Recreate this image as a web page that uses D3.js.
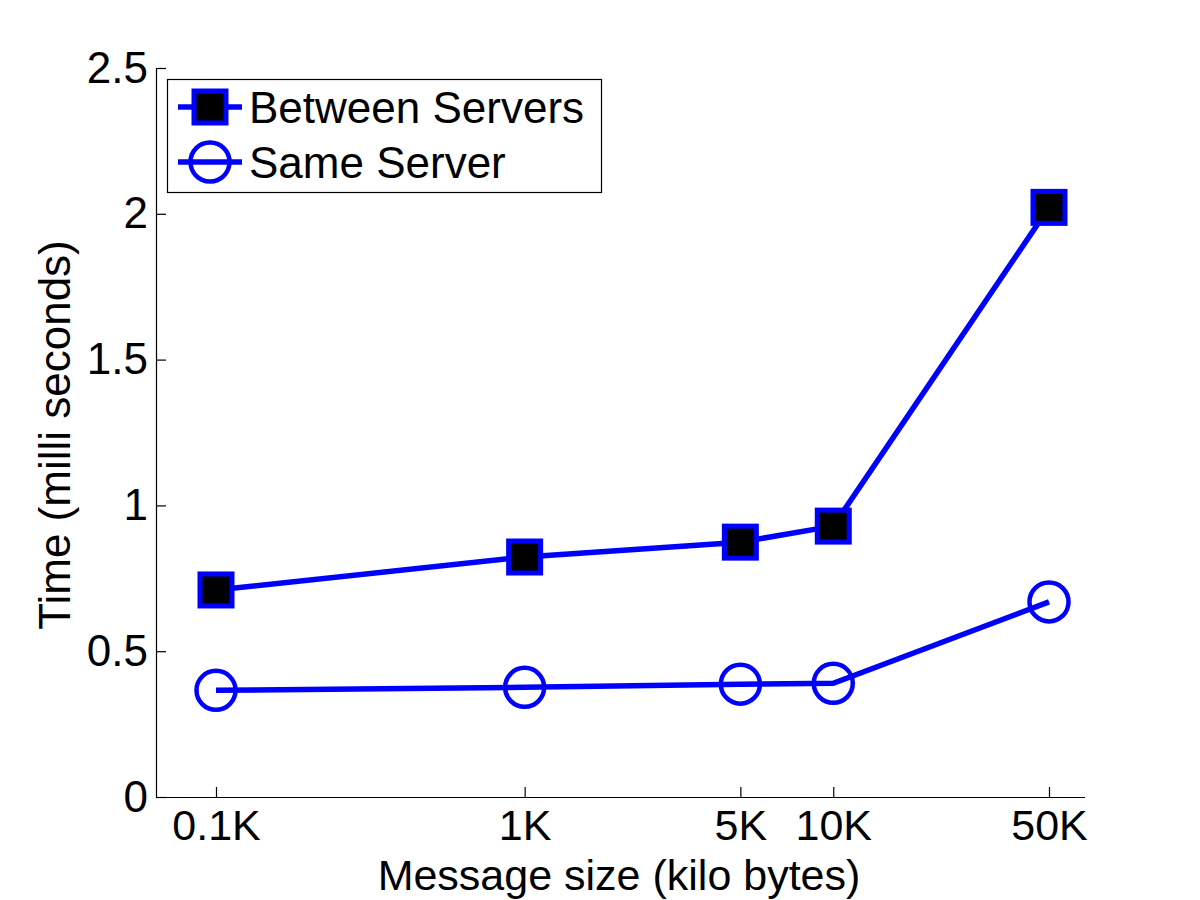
<!DOCTYPE html>
<html>
<head>
<meta charset="utf-8">
<script src="https://cdn.jsdelivr.net/npm/d3@7"></script>
<style>
html,body{margin:0;padding:0;background:#fff;}
text{font-family:"Liberation Sans",Arial,sans-serif;fill:#000;}
</style>
</head>
<body>
<script>
// message sizes in K
var sizes = [0.1, 1, 5, 10, 50];
var sizeLabels = ["0.1K", "1K", "5K", "10K", "50K"];
var betweenServers = [0.71, 0.823, 0.874, 0.929, 2.022];
var sameServer = [0.366, 0.376, 0.387, 0.39, 0.669];
var yTicks = [0, 0.5, 1, 1.5, 2, 2.5];
var seriesNames = ["Between Servers", "Same Server"];

var W = 1200, H = 900;
var blue = "#0000ff";
var axL = 156, axR = 1085, axB = 797, axT = 68;

var svg = d3.select("body").append("svg").attr("width", W).attr("height", H);

var x = d3.scaleLog().domain([0.1, 50]).range([216, 1049]);
var y = d3.scaleLinear().domain([0, 2.5]).range([axB, axT]);

// axes (box off, ticks inside)
var gx = svg.append("g").attr("transform", "translate(0," + axB + ")");
gx.call(d3.axisBottom(x).tickValues(sizes).tickSizeInner(-10).tickSizeOuter(0)
	.tickPadding(12).tickFormat(function(d, i){return sizeLabels[i];}));
gx.select(".domain").attr("d", "M" + axL + ",0.5H" + axR);
gx.selectAll("text").attr("font-size", 43).attr("font-family", "Liberation Sans, Arial, sans-serif");

var gy = svg.append("g").attr("transform", "translate(" + axL + ",0)");
gy.call(d3.axisLeft(y).tickValues(yTicks).tickSizeInner(-10).tickSizeOuter(0)
	.tickPadding(8).tickFormat(d3.format("")));
gy.selectAll("text").attr("font-size", 44).attr("font-family", "Liberation Sans, Arial, sans-serif");
svg.selectAll(".domain, .tick line").attr("stroke", "#000").attr("stroke-width", 1.2);

// axis titles
svg.append("text").attr("x", 619).attr("y", 890).attr("text-anchor", "middle")
	.attr("font-size", 43).text("Message size (kilo bytes)");
svg.append("text").attr("transform", "translate(70,435) rotate(-90)").attr("text-anchor", "middle")
	.attr("font-size", 44).text("Time (milli seconds)");

var line = d3.line().x(function(d, i){return x(sizes[i]);}).y(function(d){return y(d);});

function drawSquare(g, cx, cy){
	g.append("rect").attr("x", cx - 16).attr("y", cy - 16).attr("width", 32).attr("height", 32)
		.attr("fill", "#000").attr("stroke", blue).attr("stroke-width", 5);
}
function drawCircle(g, cx, cy){
	g.append("circle").attr("cx", cx).attr("cy", cy).attr("r", 19.5)
		.attr("fill", "none").attr("stroke", blue).attr("stroke-width", 4.5);
}

var plot = svg.append("g");
[betweenServers, sameServer].forEach(function(vals, si){
	plot.append("path").datum(vals).attr("d", line)
		.attr("fill", "none").attr("stroke", blue).attr("stroke-width", 5.5);
	vals.forEach(function(v, i){
		if (si === 0) drawSquare(plot, x(sizes[i]), y(v));
		else drawCircle(plot, x(sizes[i]), y(v));
	});
});

// legend
var lg = svg.append("g");
lg.append("rect").attr("x", 167.5).attr("y", 79.5).attr("width", 434).attr("height", 113)
	.attr("fill", "#fff").attr("stroke", "#000").attr("stroke-width", 1.2);
var rows = [107, 162];
rows.forEach(function(ry, i){
	lg.append("line").attr("x1", 178).attr("x2", 242).attr("y1", ry).attr("y2", ry)
		.attr("stroke", blue).attr("stroke-width", 5.5);
	if (i === 0) drawSquare(lg, 210, ry); else drawCircle(lg, 210, ry);
	lg.append("text").attr("x", 249).attr("y", ry + 16).attr("font-size", 44).text(seriesNames[i]);
});
</script>
</body>
</html>
